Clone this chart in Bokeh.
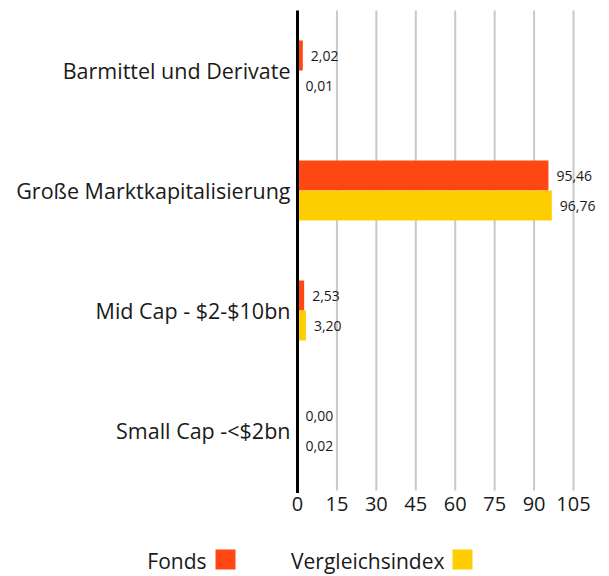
import numpy as np
from bokeh.plotting import figure
from bokeh.models import ColumnDataSource, Range1d
from bokeh.core.properties import value
from bokeh.embed import file_html
from bokeh.resources import INLINE

categories = ["Barmittel und Derivate", "Große Marktkapitalisierung", "Mid Cap - $2-$10bn", "Small Cap -<$2bn"]
fonds = [2.02, 95.46, 2.53, 0.00]
index_vals = [0.01, 96.76, 3.20, 0.02]
series_names = ["Fonds", "Vergleichsindex"]
x_ticks = [0, 15, 30, 45, 60, 75, 90, 105]

ORANGE = "#ff4713"
YELLOW = "#ffce00"
TEXT = "#1a1a1a"
GRID = "#c8c8c8"
FONT = "Open Sans"

W, H = 609, 576
# layout (pixels): value axis 0 at x=297, 105 at x=573; category bands 120 px tall from y=10
X0_PX, X_MAX_PX, X_MAX = 297, 573, 105
BAND_PX, TOP_PX = 120, 10

def fmt(v):
    return f"{v:.2f}".replace(".", ",")

n = len(categories)
ypos = np.arange(n)[::-1].astype(float)  # first category on top
lo, hi = -0.5, n - 0.5

src = ColumnDataSource(dict(
    cat=categories,
    y=ypos,
    yf=ypos + 0.125,
    yi=ypos - 0.125,
    fonds=fonds,
    idx=index_vals,
    fonds_lbl=[fmt(v) for v in fonds],
    idx_lbl=[fmt(v) for v in index_vals],
))

sx = (X_MAX_PX - X0_PX) / X_MAX
x_range = Range1d(-X0_PX / sx, (W - X0_PX) / sx)
y_top = hi + TOP_PX / BAND_PX
y_bot = y_top - H / BAND_PX
y_range = Range1d(y_bot, y_top)

p = figure(width=W, height=H, output_backend="svg", toolbar_location=None,
           x_range=x_range, y_range=y_range, x_axis_type=None, y_axis_type=None,
           title=None, min_border=0)
p.outline_line_color = None
p.background_fill_color = "white"
p.border_fill_color = "white"
p.extra_x_ranges = {"px": Range1d(0, W)}
p.extra_y_ranges = {"px": Range1d(H, 0)}

# grid lines
p.segment(x0=x_ticks[1:], x1=x_ticks[1:], y0=lo, y1=hi, line_color=GRID, line_width=2)

# bars
p.hbar(y="yf", right="fonds", left=0, height=0.25, source=src, color=ORANGE, line_color=None)
p.hbar(y="yi", right="idx", left=0, height=0.25, source=src, color=YELLOW, line_color=None)

# category axis line
p.segment(x0=[0], x1=[0], y0=[lo - 0.02], y1=[hi], line_color="black", line_width=3)

# value labels
p.text(x="fonds", y="yf", text="fonds_lbl", source=src, x_offset=8,
       text_baseline="middle", text_align="left",
       text_font=value(FONT), text_font_size="14px", text_color=TEXT)
p.text(x="idx", y="yi", text="idx_lbl", source=src, x_offset=8,
       text_baseline="middle", text_align="left",
       text_font=value(FONT), text_font_size="14px", text_color=TEXT)

# category labels
p.text(x=0, y="y", text="cat", source=src, x_offset=-7,
       text_baseline="middle", text_align="right",
       text_font=value(FONT), text_font_size="21.5px", text_color=TEXT)

# value-axis tick labels
p.text(x=x_ticks, y=[lo] * len(x_ticks), text=[str(t) for t in x_ticks], y_offset=6,
       text_baseline="top", text_align="center",
       text_font=value(FONT), text_font_size="20px", text_color=TEXT)

# legend: text then colour square (pixel coordinates)
p.text(x=[206, 444], y=[560, 560], text=series_names, x_range_name="px", y_range_name="px",
       text_align="right", text_baseline="middle",
       text_font=value(FONT), text_font_size="21px", text_color=TEXT)
p.rect(x=[225, 462], y=[559, 559], width=20, height=20, x_range_name="px", y_range_name="px",
       fill_color=[ORANGE, YELLOW], line_color=None)

open("out.html", "w").write(file_html(p, INLINE))
